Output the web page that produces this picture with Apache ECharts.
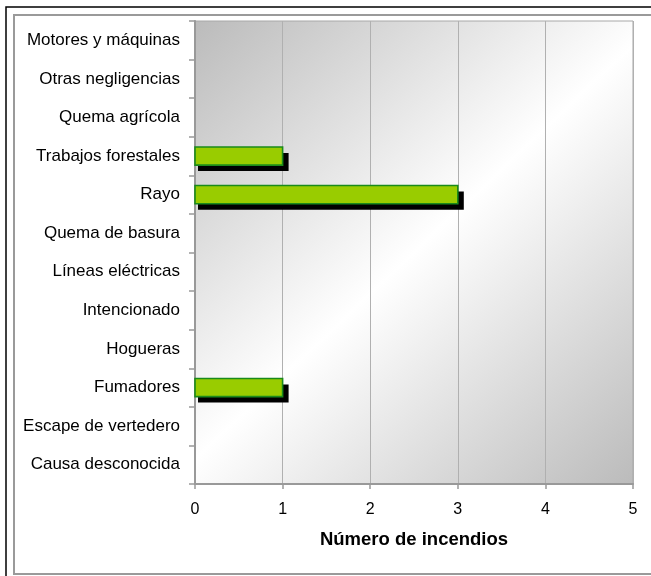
<!DOCTYPE html>
<html>
<head>
<meta charset="utf-8">
<script src="https://cdn.jsdelivr.net/npm/echarts@6/dist/echarts.min.js"></script>
<style>html,body{margin:0;padding:0;background:#fff;}#c{width:651px;height:576px;}</style>
</head>
<body>
<div id="c"></div>
<script>
const categories = ['Causa desconocida','Escape de vertedero','Fumadores','Hogueras','Intencionado','Líneas eléctricas','Quema de basura','Rayo','Trabajos forestales','Quema agrícola','Otras negligencias','Motores y máquinas'];
const values = [0,0,1,0,0,0,0,3,1,0,0,0];
const xTicks = [0,1,2,3,4,5];
const axisTitle = 'Número de incendios';

const seriesData = values.map((v, i) => [v, i]);

const chart = echarts.init(document.getElementById('c'), null, {renderer:'canvas'});
chart.setOption({
  animation:false,
  backgroundColor:'#ffffff',
  textStyle:{fontFamily:'Liberation Sans, Arial, sans-serif'},
  graphic:[
    {type:'rect', shape:{x:6,y:7,width:700,height:700}, style:{fill:'none',stroke:'#000',lineWidth:1.5}, z:-10},
    {type:'rect', shape:{x:14,y:15,width:700,height:559}, style:{fill:'none',stroke:'#9a9a9a',lineWidth:2}, z:-10}
  ],
  grid:{left:195,right:18,top:21,bottom:92,show:true,borderColor:'#a8a8a8',borderWidth:1,
    backgroundColor:{type:'linear',x:0,y:0,x2:1,y2:1,colorStops:[
      {offset:0,color:'#bbbbbb'},{offset:0.5,color:'#ffffff'},{offset:1,color:'#bbbbbb'}]}},
  xAxis:{type:'value',min:xTicks[0],max:xTicks[xTicks.length-1],interval:1,
    name:axisTitle,nameLocation:'middle',nameGap:46,
    nameTextStyle:{fontSize:18.5,fontWeight:'bold',color:'#000'},
    axisLine:{show:true,lineStyle:{color:'#999',width:2}},
    axisTick:{show:true,length:5,lineStyle:{color:'#999',width:1.5}},
    axisLabel:{fontSize:16,color:'#000',margin:18},
    splitLine:{show:true,lineStyle:{color:'#b0b0b0',width:1}}},
  yAxis:{type:'category',data:categories,
    axisLine:{show:true,lineStyle:{color:'#999',width:2}},
    axisTick:{show:true,length:6,alignWithLabel:false,lineStyle:{color:'#999',width:1.5}},
    axisLabel:{fontSize:17,color:'#000',margin:15},
    splitLine:{show:false}},
  series:[{type:'custom',data:seriesData,encode:{x:0,y:1},
    renderItem:function(params, api){
      const v = api.value(0);
      const idx = api.value(1);
      if (!v) return {type:'group', children:[]};
      const p0 = api.coord([0, idx]);
      const p1 = api.coord([v, idx]);
      const h = api.size([0, 1])[1] * 0.47;
      const top = p0[1] - h / 2;
      return {type:'group', children:[
        {type:'rect', shape:{x:p0[0]+3, y:top+6, width:(p1[0]-p0[0])+3, height:h}, style:{fill:'#000'}},
        {type:'rect', shape:{x:p0[0], y:top, width:p1[0]-p0[0], height:h}, style:{fill:'#99cc00', stroke:'#1a8a1a', lineWidth:1.6}}
      ]};
    }}]
});
</script>
</body>
</html>
